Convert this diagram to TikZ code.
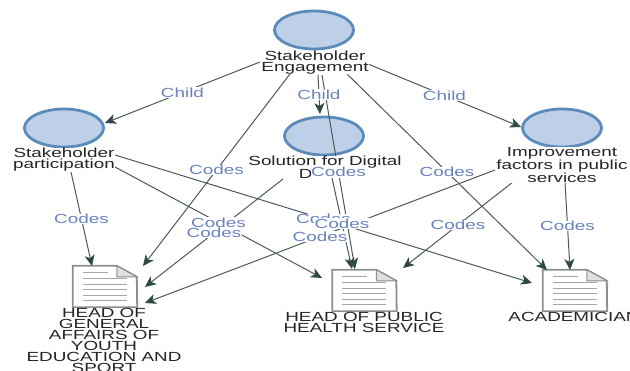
\documentclass[tikz,border=0pt]{standalone}
\usepackage{fontspec}
\usepackage{tikz}
\usetikzlibrary{calc}
\usetikzlibrary{arrows.meta}
\usetikzlibrary{shapes.geometric}
\newfontfamily\nvfont[FakeStretch=1.43]{Liberation Sans}
\definecolor{themefill}{HTML}{BDD0E8}
\definecolor{themeline}{HTML}{5B8BBB}
\definecolor{edgecol}{HTML}{4A5A58}
\definecolor{tipcol}{HTML}{2F4A46}
\definecolor{codecol}{HTML}{6A83BE}
\definecolor{pagecol}{HTML}{8E8E8E}
\tikzset{
  theme/.style = {ellipse, draw=themeline, fill=themefill, line width=2.8pt, minimum width=79pt, minimum height=38pt, inner sep=0},
  txt/.style = {draw=none, fill=white, align=center, inner sep=0, font=\nvfont\fontsize{13.2}{11}\selectfont, text=black!85},
  rel/.style = {draw=none, inner sep=0.5, fill=white, font=\nvfont\fontsize{13.2}{11}\selectfont, text=codecol},
  link/.style = {draw=edgecol, line width=1pt, -{Stealth[length=11pt,width=10pt,inset=3pt,color=tipcol]}},
  pagebox/.style = {draw=none, minimum width=64pt, minimum height=41pt, inner sep=0},
}
\newcommand{\pagedoc}[1]{
  \draw [pagecol, line width=1.8pt, fill=white] (#1.south west) -- (#1.north west) -- ++(44,0) -- ++(20,11) -- (#1.south east) -- cycle;
  \draw [pagecol, line width=1pt, fill=black!12] (#1.north west) ++(44,0) -- ++(0,11) -- ++(20,0) -- cycle;
  \draw [black!35, line width=0.7pt] ($(#1.north west)+(10,7)$) -- ++(25,0);
  \foreach \i in {1,...,5} {\draw [black!35, line width=0.7pt] ($(#1.north west)+(10,7+5.6*\i)$) -- ++(44,0);}
}
\begin{document}
\begin{tikzpicture}[x=1pt, y=-1pt]
\useasboundingbox (0,0) rectangle (630,371);
% themes
\node [theme] (eng) at (314, 30) {};
\node [theme] (par) at (64, 128) {};
\node [theme] (sol) at (324, 136) {};
\node [theme] (imp) at (562, 128) {};
% documents
\node [pagebox] (docA) at (105, 286.5) {};
\node [pagebox] (docB) at (364.5, 290.5) {};
\node [pagebox] (docC) at (575, 290.5) {};
\pagedoc{docA}
\pagedoc{docB}
\pagedoc{docC}
% free ends of the connectors
\coordinate (e1) at (260, 62);
\coordinate (e2) at (318, 75);
\coordinate (e3) at (368, 64);
\coordinate (e4) at (290, 74);
\coordinate (e5) at (322, 75);
\coordinate (e6) at (347, 74);
\coordinate (p1) at (115, 155);
\coordinate (p2) at (115, 167);
\coordinate (p3) at (71, 172);
\coordinate (s1) at (283, 179);
\coordinate (s2) at (332, 178);
\coordinate (i1) at (495, 170);
\coordinate (i2) at (513, 182);
\coordinate (i3) at (565, 182);
\coordinate (a1) at (143, 266);
\coordinate (a2) at (145, 287);
\coordinate (a3) at (145, 303);
\coordinate (b1) at (322, 278);
\coordinate (b2) at (352, 269);
\coordinate (b3) at (403, 268);
\coordinate (b4) at (355, 269);
\coordinate (c1) at (547, 270);
\coordinate (c2) at (532, 283);
\coordinate (c3) at (570, 270);
\coordinate (m1) at (105, 123);
\coordinate (m2) at (320, 114);
\coordinate (m3) at (521, 127);
\coordinate (m4) at (92, 266);
% links
\foreach \from/\to in {e1/m1, e2/m2, e3/m3, e4/a1, e5/b4, e6/c1, p3/m4, p2/b1, p1/c2, s1/a2, s2/b2, i1/a3, i2/b3, i3/c3}
  \draw [link] (\from) to (\to);
% labels
\node [txt] (engl) at (315, 62.5) {Stakeholder\\Engagement};
\node [txt] (parl) at (64, 160) {Stakeholder\\participation};
\node [txt] (soll) at (325, 167) {Solution for Digital\\D\hphantom{ivide}};
\node [txt] (impl) at (562, 165) {Improvement\\factors in public\\services};
\node [txt] (doca) at (104, 340.5) {HEAD OF\\GENERAL\\AFFAIRS OF\\YOUTH\\EDUCATION AND\\SPORT};
\node [txt] (docb) at (364, 322) {HEAD OF PUBLIC\\HEALTH SERVICE};
\node [txt] (docc) at (574, 317) {ACADEMICIAN};
% labels of the links
\foreach \from/\to/\word in {e1/m1/Child, e2/m2/Child, e3/m3/Child, e4/a1/Codes, e5/b4/Codes, e6/c1/Codes, p3/m4/Codes, p2/b1/Codes, p1/c2/Codes, s1/a2/Codes, i1/a3/Codes, s2/b2/Codes, i2/b3/Codes, i3/c3/Codes}
  \path (\from) to node [rel] {\word} (\to);
\end{tikzpicture}
\end{document}
